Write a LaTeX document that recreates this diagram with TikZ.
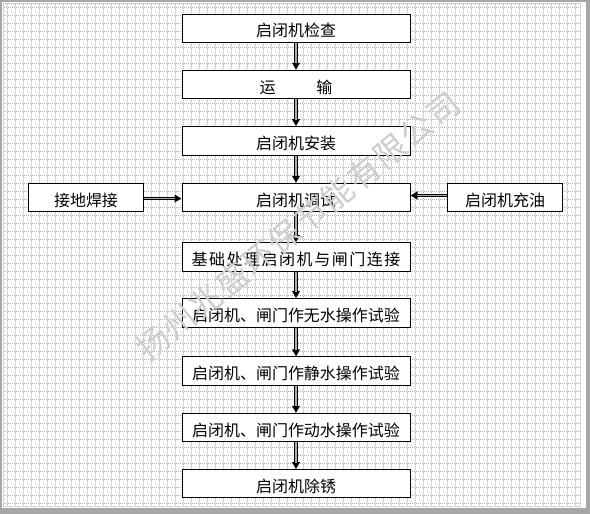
\documentclass[tikz,border=0pt]{standalone}
\usepackage{fontspec}
\newfontfamily\cjk{Noto Sans CJK SC}
\newfontfamily\cjkwide[LetterSpace=9.5]{Noto Sans CJK SC}
\newfontfamily\cjkwm[LetterSpace=6]{Noto Sans CJK SC}
\usetikzlibrary{arrows.meta}
\begin{document}
\begin{tikzpicture}[x=1pt,y=-1pt,
  gridline/.style={draw=gray!62, line width=0.55pt, dash pattern=on 0.9pt off 1.1pt},
  box/.style={draw=black, line width=1pt, fill=white, minimum width=228pt, minimum height=28.4pt,
    inner sep=0pt, text height=17.5pt, text depth=0pt, font=\cjk\fontsize{16pt}{16pt}\selectfont},
  sidebox/.style={box, minimum width=115.4pt},
  arr/.style={line width=3.6pt, draw=black, -{Triangle[length=7pt,width=7.6pt]},
    postaction={draw=gray!65, line width=1.6pt, -, shorten >=6.5pt}},
  wm/.style={text={rgb,255:red,205;green,205;blue,205}, inner sep=0pt,
    font=\cjkwm\fontsize{32pt}{32pt}\selectfont}
]
\useasboundingbox (0,0) rectangle (590,514);
% frame
\fill[gray!70] (0,0) rectangle (590,514);
\fill[white] (2,2) rectangle (586,508);
\draw[gray!35, line width=1pt] (3.5,3.5) rectangle (580.5,506.5);
% grid
\foreach \i in {0,...,71} { \draw[gridline] ({7.3+8*\i},4) -- ({7.3+8*\i},506); }
\foreach \j in {0,...,62} { \draw[gridline] (4,{7.3+8*\j}) -- (580,{7.3+8*\j}); }
% boxes
\node[box] (b1) at (296,28.2) {启闭机检查};
\node[box] (b2) at (296,84.5) {运\hspace{41pt}输};
\node[box] (b3) at (296,140.8) {启闭机安装};
\node[box] (b4) at (296,197.5) {启闭机调试};
\node[box, font=\cjkwide\fontsize{16pt}{16pt}\selectfont] (b5) at (296,256.8) {基础处理启闭机与闸门连接};
\node[box] (b6) at (296,312.8) {启闭机、闸门作无水操作试验};
\node[box] (b7) at (296,371.1) {启闭机、闸门作静水操作试验};
\node[box] (b8) at (296,427.5) {启闭机、闸门作动水操作试验};
\node[box] (b9) at (296,483.7) {启闭机除锈};
\node[sidebox] (L) at (86,197.5) {接地焊接};
\node[sidebox] (R) at (505,197.5) {启闭机充油};
% arrows
\draw[arr] (b1.south) -- (b2.north);
\draw[arr] (b2.south) -- (b3.north);
\draw[arr] (b3.south) -- (b4.north);
\draw[arr] (b4.south) -- (b5.north);
\draw[arr] (b5.south) -- (b6.north);
\draw[arr] (b6.south) -- (b7.north);
\draw[arr] (b7.south) -- (b8.north);
\draw[arr] (b8.south) -- (b9.north);
\draw[arr] ([yshift=-1pt]L.east) -- ([yshift=-1pt]b4.west);
\draw[arr] ([yshift=2pt]R.west) -- ([yshift=2pt]b4.east);
% watermark
\node[wm, rotate=39] (wm) at (298,226) {扬州兆盛环保节能有限公司};
\end{tikzpicture}
\end{document}
